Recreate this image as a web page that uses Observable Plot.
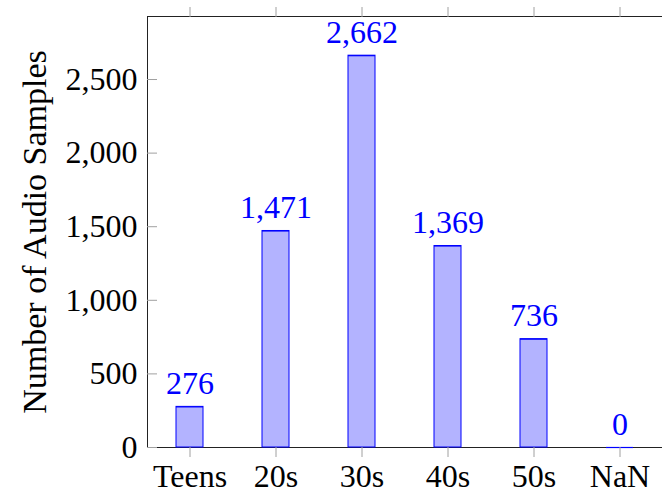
<!DOCTYPE html>
<html>
<head>
<meta charset="utf-8">
<script src="https://cdn.jsdelivr.net/npm/d3@7"></script>
<script src="https://cdn.jsdelivr.net/npm/@observablehq/plot@0.6"></script>
<style>
  html, body { margin: 0; padding: 0; background: #fff; }
  #chart svg { display: block; }
</style>
</head>
<body>
<div id="chart"></div>
<script>
// Audio samples per age group
const ageGroups = ["Teens", "20s", "30s", "40s", "50s", "NaN"];
const sampleCounts = [276, 1471, 2662, 1369, 736, 0];
const yTicks = [0, 500, 1000, 1500, 2000, 2500];
const yLabel = "Number of Audio Samples";

const rows = ageGroups.map((g, i) => ({group: g, count: sampleCounts[i]}));

const serif = "'Liberation Serif', 'Times New Roman', serif";
const fs = 32;
const blue = "#0000ff";
const barFill = "#b3b3ff";
const tickGray = "#a0a0a0";
const fmt = d3.format(",");
const yMax = d3.max(sampleCounts) * 1.1;

const chart = Plot.plot({
  width: 662,
  height: 499,
  marginLeft: 147,
  marginRight: -1,
  marginTop: 16,
  marginBottom: 52,
  style: {fontFamily: serif, background: "#fff", color: "#000"},
  x: {type: "band", domain: ageGroups, paddingInner: 0.686, paddingOuter: 0.343},
  y: {domain: [0, yMax]},
  marks: [
    Plot.frame({stroke: "#222", strokeWidth: 1}),
    Plot.tickY(yTicks, {y: d => d, stroke: tickGray, insetRight: 506}),
    Plot.rectY(rows, {x: "group", y: "count", fill: barFill, stroke: blue, strokeWidth: 1}),
    // top edge of every bar, so the empty group still shows as a line
    Plot.tickY(rows, {x: "group", y: "count", stroke: blue, strokeWidth: 1.2}),
    Plot.text(rows, {
      x: "group", y: "count", text: d => fmt(d.count),
      lineAnchor: "bottom", dy: -13, fill: blue, fontSize: fs, fontFamily: serif
    }),
    Plot.axisX({anchor: "bottom", tickSize: 10, tickPadding: 7, stroke: tickGray, fill: "#000",
      fontSize: fs, fontFamily: serif, label: null}),
    Plot.axisX({anchor: "top", tickSize: 10, tickFormat: () => "", stroke: tickGray, label: null}),
    Plot.axisY({ticks: yTicks, tickSize: 0, tickPadding: 10, tickFormat: fmt,
      fontSize: fs, fontFamily: serif, fill: "#000", label: null}),
    Plot.text([yLabel], {frameAnchor: "left", rotate: -90, dx: -112, textAnchor: "middle",
      text: d => d, fontSize: 34, fontFamily: serif, fill: "#000"})
  ]
});
document.getElementById("chart").appendChild(chart);
</script>
</body>
</html>
